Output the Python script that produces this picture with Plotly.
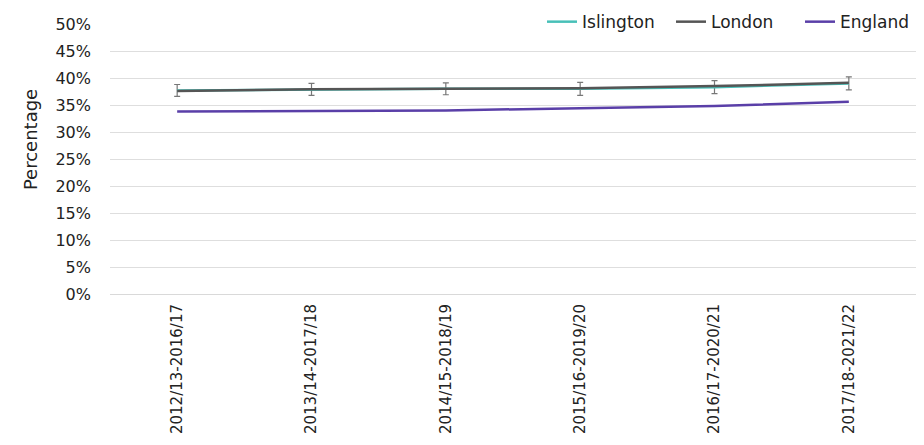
import plotly.graph_objects as go

periods = ["2012/13-2016/17", "2013/14-2017/18", "2014/15-2018/19",
           "2015/16-2019/20", "2016/17-2020/21", "2017/18-2021/22"]
islington = [37.7, 37.9, 38.0, 38.0, 38.3, 39.0]
islington_err = [1.1, 1.1, 1.1, 1.2, 1.2, 1.2]
london = [37.6, 37.9, 38.0, 38.1, 38.5, 39.1]
england = [33.8, 33.9, 34.0, 34.4, 34.8, 35.6]

FONT = "DejaVu Sans"
fig = go.Figure()
fig.add_trace(go.Scatter(
    x=periods, y=islington, name="Islington", mode="lines",
    line=dict(color="#48c0b8", width=2.5),
    error_y=dict(type="data", array=islington_err, visible=True,
                 color="#777777", thickness=1.2, width=3),
))
fig.add_trace(go.Scatter(
    x=periods, y=london, name="London", mode="lines",
    line=dict(color="#555555", width=2.5),
))
fig.add_trace(go.Scatter(
    x=periods, y=england, name="England", mode="lines",
    line=dict(color="#5a3fa8", width=2.5),
))

fig.add_annotation(
    text="Percentage", textangle=-90, showarrow=False,
    xref="paper", yref="paper", x=(22 - 102) / 806, y=0.57,
    xanchor="center", yanchor="middle",
    font=dict(family=FONT, size=18, color="#222222"),
)

fig.update_layout(
    width=908, height=429,
    margin=dict(l=102, r=0, t=16, b=143, autoexpand=False),
    paper_bgcolor="white", plot_bgcolor="white",
    font=dict(family=FONT, size=16, color="#222222"),
    showlegend=True,
    legend=dict(orientation="h", x=0.536, xanchor="left", y=1.007, yanchor="middle",
                bgcolor="white", font=dict(size=17, color="#222222"),
                itemwidth=30, entrywidth=84, entrywidthmode="pixels",
                traceorder="normal", borderwidth=0),
    xaxis=dict(
        type="category", tickangle=-90, showgrid=False,
        showline=True, linecolor="#d9d9d9", linewidth=1,
        ticks="", tickfont=dict(size=15), range=[-0.5, 5.5],
        ticklabelstandoff=3,
    ),
    yaxis=dict(
        range=[0, 50], dtick=5, ticksuffix="%",
        showgrid=True, gridcolor="#dedede", gridwidth=1,
        zeroline=False, ticks="", ticklabelstandoff=18,
        tickfont=dict(size=16),
    ),
)
fig.write_html("out.html")
